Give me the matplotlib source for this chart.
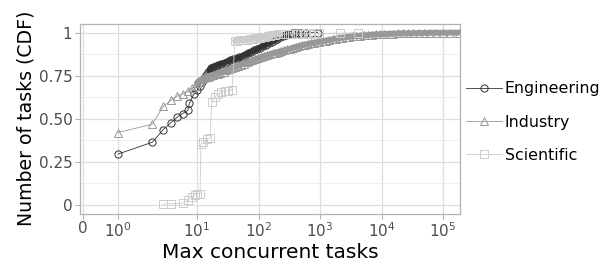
import numpy as np
import matplotlib
matplotlib.use("Agg")
import matplotlib.pyplot as plt
from matplotlib.ticker import FixedLocator

# DATA
eng_x = [1, 2.73, 3.74, 4.68, 5.66, 6.56, 7.67, 8.0, 9.1, 10, 11, 12, 13, 14, 15,
         16, 17, 18, 20, 22, 25, 28, 31, 35, 39, 44, 49, 55, 61, 68, 76, 85, 95,
         106, 118, 131, 146, 163, 182, 203, 226, 252, 280, 310, 345, 390, 440,
         500, 600, 720, 935]
eng_y = [0.295, 0.364, 0.437, 0.478, 0.51, 0.53, 0.549, 0.59, 0.642, 0.665, 0.69,
         0.712, 0.735, 0.755, 0.77, 0.782, 0.792, 0.798, 0.805, 0.812, 0.82, 0.826,
         0.832, 0.839, 0.845, 0.85, 0.856, 0.864, 0.872, 0.88, 0.888, 0.897, 0.905,
         0.913, 0.921, 0.929, 0.938, 0.947, 0.956, 0.965, 0.974, 0.982, 0.988,
         0.992, 0.995, 0.996, 0.997, 0.998, 0.999, 0.9995, 1.0]

ind_x = [1, 2.7, 3.74, 4.68, 5.66, 6.56, 7.67, 8.63, 9.5, 10, 11, 12, 13, 14, 15,
         16, 18, 20, 22, 24, 27, 30, 33, 37, 41, 46, 51, 57, 64, 71, 79, 88, 98,
         110, 122, 136, 152, 170, 190, 212, 236, 263, 294, 328, 366, 408, 455,
         508, 567, 632, 705, 787, 878, 980, 1100, 1250, 1400, 1600, 1800, 2050,
         2300, 2600, 3000, 3400, 3900, 4500, 5200, 6000, 7000, 8200, 9500, 11000,
         13000, 15500, 18500, 22000, 27000, 33000, 40000, 50000, 62000, 78000,
         100000, 130000, 180000]
ind_y = [0.42, 0.468, 0.572, 0.607, 0.632, 0.645, 0.662, 0.678, 0.692, 0.71, 0.722,
         0.729, 0.735, 0.74, 0.744, 0.748, 0.753, 0.758, 0.762, 0.767, 0.774, 0.781,
         0.787, 0.794, 0.8, 0.807, 0.813, 0.82, 0.827, 0.833, 0.839, 0.845, 0.851,
         0.857, 0.863, 0.869, 0.874, 0.879, 0.884, 0.888, 0.892, 0.897, 0.902,
         0.907, 0.912, 0.917, 0.921, 0.926, 0.93, 0.934, 0.938, 0.941, 0.944,
         0.947, 0.95, 0.954, 0.957, 0.961, 0.964, 0.967, 0.97, 0.973, 0.976,
         0.978, 0.98, 0.982, 0.984, 0.986, 0.988, 0.99, 0.991, 0.992, 0.993,
         0.994, 0.995, 0.996, 0.9965, 0.997, 0.9975, 0.998, 0.9985, 0.999, 0.9993,
         0.9996, 1.0]

sci_x = [3.74, 4.68, 6.56, 7.67, 8.63, 9.5, 10.1, 11.2, 11.6, 12.7, 14.4, 16.3,
         17.3, 19.6, 22.2, 25, 28.5, 32, 37, 41.5, 45, 50, 55, 60, 66, 73, 80, 88,
         97, 106, 116, 128, 140, 154, 168, 185, 205, 224, 260, 325, 400, 470, 560,
         680, 800, 980, 2130, 4150]
sci_y = [0.006, 0.006, 0.01, 0.029, 0.045, 0.058, 0.064, 0.066, 0.353, 0.366, 0.38,
         0.387, 0.597, 0.626, 0.645, 0.655, 0.66, 0.663, 0.665, 0.952, 0.954,
         0.955, 0.957, 0.958, 0.96, 0.962, 0.964, 0.966, 0.968, 0.97, 0.973,
         0.976, 0.979, 0.982, 0.985, 0.988, 0.99, 0.99, 0.991, 0.992, 0.993,
         0.993, 0.994, 0.994, 0.995, 0.995, 0.996, 1.0]

series = ["Engineering", "Industry", "Scientific"]
x_ticks = [0, 1, 10, 100, 1000, 10000, 100000]
x_labels = ["0", "$10^{0}$", "$10^{1}$", "$10^{2}$", "$10^{3}$", "$10^{4}$", "$10^{5}$"]
y_ticks = [0, 0.25, 0.5, 0.75, 1]
y_labels = ["0", "0.25", "0.50", "0.75", "1"]

plt.rcParams["font.family"] = ["DejaVu Sans"]
plt.rcParams["mathtext.fontset"] = "dejavusans"

# x scale: linear below 1, stretched first decade, then plain log decades
A = 0.569
B = 1.285


def forward(x):
    x = np.asarray(x, dtype=float)
    lx = np.log10(np.maximum(x, 1.0))
    return np.where(x < 1, A * x, np.where(lx < 1, A + B * lx, A + B + lx - 1))


def inverse(u):
    u = np.asarray(u, dtype=float)
    mid = 10 ** np.clip((u - A) / B, -10, 10)
    top = 10 ** np.clip(u - A - B + 1, -10, 20)
    return np.where(u < A, u / A, np.where(u < A + B, mid, top))


fig = plt.figure(figsize=(6, 2.67), dpi=100)
ax = fig.add_axes([80 / 600, 1 - 213.5 / 267, 380 / 600, 189.5 / 267])

# colour, marker, marker size, range where the markers pile up into a band
styles = [("#333333", "o", 5.2, (16, 300)),
          ("#989898", "^", 5.6, (10, 2e5)),
          ("#cccccc", "s", 5.2, (41.5, 230))]
data = [(eng_x, eng_y), (ind_x, ind_y), (sci_x, sci_y)]
for name, (xs, ys), (col, mk, ms, band) in zip(series, data, styles):
    xs = np.array(xs)
    ys = np.array(ys)
    dense = (xs >= band[0]) & (xs <= band[1])
    ax.plot(xs[dense], ys[dense], color=col, lw=4.2, solid_capstyle="round",
            zorder=3)
    ax.plot(xs, ys, color=col, lw=0.6, marker=mk, ms=ms, mfc="none",
            mec=col, mew=0.7, label=name, zorder=3)

ax.set_xscale("function", functions=(forward, inverse))
ax.set_xlim(-0.086, 1.89e5)
ax.set_ylim(-0.05, 1.05)

ax.xaxis.set_major_locator(FixedLocator(x_ticks))
ax.set_xticklabels(x_labels)
ax.xaxis.set_minor_locator(FixedLocator([]))
ax.yaxis.set_major_locator(FixedLocator(y_ticks))
ax.set_yticklabels(y_labels)
ax.yaxis.set_minor_locator(FixedLocator([0.125, 0.375, 0.625, 0.875]))

ax.grid(True, which="major", color="#dedede", lw=0.9, zorder=0)
ax.grid(True, which="minor", axis="y", color="#ebebeb", lw=0.6, zorder=0)
ax.set_axisbelow(True)
for sp in ax.spines.values():
    sp.set_color("#b3b3b3")
    sp.set_linewidth(0.9)
ax.tick_params(which="major", length=3.5, width=0.8, color="#b3b3b3",
               labelcolor="#4d4d4d", labelsize=11, pad=2)
ax.tick_params(which="minor", length=0)

ax.set_xlabel("Max concurrent tasks", fontsize=14.5, labelpad=2)
ax.set_ylabel("Number of tasks (CDF)", fontsize=13.6, labelpad=2)

leg = ax.legend(loc="center left", bbox_to_anchor=(466 / 600, 1 - 122 / 267),
                bbox_transform=fig.transFigure, frameon=False, fontsize=11.4,
                handlelength=2.3, handletextpad=0.15, labelspacing=1.15,
                borderpad=0, borderaxespad=0)

fig.savefig("out.png", dpi=100)
